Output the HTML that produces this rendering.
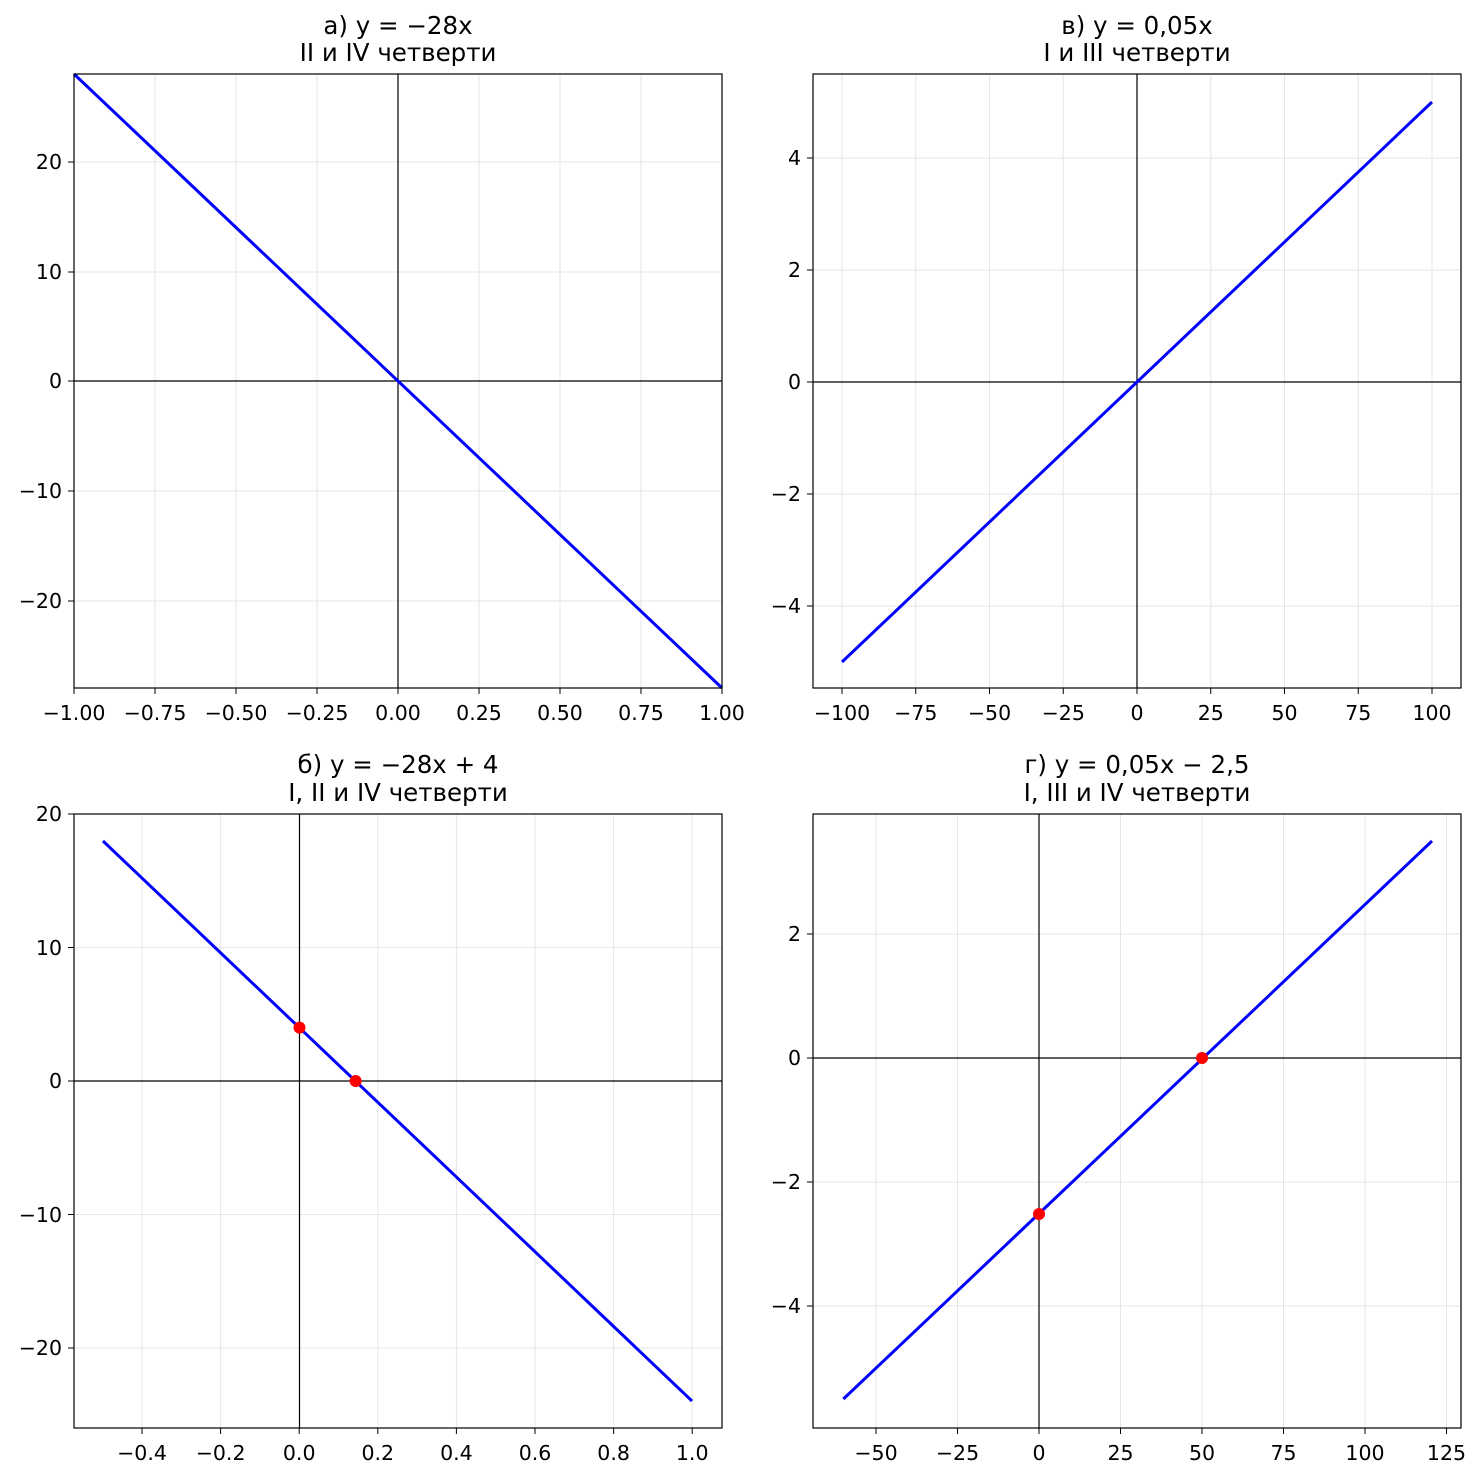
<!DOCTYPE html>
<html><head><meta charset="utf-8"><style>
body{margin:0;background:#fff}
text{font-family:"DejaVu Sans","Liberation Sans",sans-serif;fill:#000}
.t{font-size:20.5px}
.h{font-size:24.5px;text-anchor:middle}
.g{stroke:#e6e6e6;stroke-width:1}
.ax{stroke:#000;stroke-width:1.2}
.ln{stroke:#0000ff;stroke-width:3;fill:none}
</style></head><body>
<svg width="1482" height="1478" xmlns="http://www.w3.org/2000/svg">
<!-- Panel A -->
<g>
<g class="g">
<line x1="155" y1="74" x2="155" y2="688"/><line x1="236" y1="74" x2="236" y2="688"/><line x1="317" y1="74" x2="317" y2="688"/><line x1="398" y1="74" x2="398" y2="688"/><line x1="479" y1="74" x2="479" y2="688"/><line x1="560" y1="74" x2="560" y2="688"/><line x1="641" y1="74" x2="641" y2="688"/>
<line x1="74" y1="162" x2="722" y2="162"/><line x1="74" y1="272" x2="722" y2="272"/><line x1="74" y1="491" x2="722" y2="491"/><line x1="74" y1="601" x2="722" y2="601"/>
</g>
<line class="ax" x1="398" y1="74" x2="398" y2="688"/><line class="ax" x1="74" y1="381" x2="722" y2="381"/>
<line class="ln" x1="74" y1="74" x2="722" y2="688"/>
<rect x="74" y="74" width="648" height="614" fill="none" stroke="#000" stroke-width="1.2"/>
<g stroke="#000"><line x1="74" y1="688" x2="74" y2="694"/><line x1="155" y1="688" x2="155" y2="694"/><line x1="236" y1="688" x2="236" y2="694"/><line x1="317" y1="688" x2="317" y2="694"/><line x1="398" y1="688" x2="398" y2="694"/><line x1="479" y1="688" x2="479" y2="694"/><line x1="560" y1="688" x2="560" y2="694"/><line x1="641" y1="688" x2="641" y2="694"/><line x1="722" y1="688" x2="722" y2="694"/>
<line x1="68" y1="162" x2="74" y2="162"/><line x1="68" y1="272" x2="74" y2="272"/><line x1="68" y1="381" x2="74" y2="381"/><line x1="68" y1="491" x2="74" y2="491"/><line x1="68" y1="601" x2="74" y2="601"/></g>
<g class="t" text-anchor="middle"><text x="74" y="720">−1.00</text><text x="155" y="720">−0.75</text><text x="236" y="720">−0.50</text><text x="317" y="720">−0.25</text><text x="398" y="720">0.00</text><text x="479" y="720">0.25</text><text x="560" y="720">0.50</text><text x="641" y="720">0.75</text><text x="722" y="720">1.00</text></g>
<g class="t" text-anchor="end"><text x="62" y="169">20</text><text x="62" y="279">10</text><text x="62" y="388">0</text><text x="62" y="498">−10</text><text x="62" y="608">−20</text></g>
<text class="h" x="398" y="34">а) y = −28x</text><text class="h" x="398" y="61">II и IV четверти</text>
</g>
<!-- Panel B (top right) -->
<g>
<g class="g">
<line x1="842" y1="74" x2="842" y2="688"/><line x1="915.75" y1="74" x2="915.75" y2="688"/><line x1="989.5" y1="74" x2="989.5" y2="688"/><line x1="1063.25" y1="74" x2="1063.25" y2="688"/><line x1="1210.75" y1="74" x2="1210.75" y2="688"/><line x1="1284.5" y1="74" x2="1284.5" y2="688"/><line x1="1358.25" y1="74" x2="1358.25" y2="688"/><line x1="1432" y1="74" x2="1432" y2="688"/>
<line x1="813" y1="158" x2="1461" y2="158"/><line x1="813" y1="270" x2="1461" y2="270"/><line x1="813" y1="494" x2="1461" y2="494"/><line x1="813" y1="606" x2="1461" y2="606"/>
</g>
<line class="ax" x1="1137" y1="74" x2="1137" y2="688"/><line class="ax" x1="813" y1="382" x2="1461" y2="382"/>
<line class="ln" x1="842" y1="662" x2="1432" y2="102"/>
<rect x="813" y="74" width="648" height="614" fill="none" stroke="#000" stroke-width="1.2"/>
<g stroke="#000"><line x1="842" y1="688" x2="842" y2="694"/><line x1="915.75" y1="688" x2="915.75" y2="694"/><line x1="989.5" y1="688" x2="989.5" y2="694"/><line x1="1063.25" y1="688" x2="1063.25" y2="694"/><line x1="1137" y1="688" x2="1137" y2="694"/><line x1="1210.75" y1="688" x2="1210.75" y2="694"/><line x1="1284.5" y1="688" x2="1284.5" y2="694"/><line x1="1358.25" y1="688" x2="1358.25" y2="694"/><line x1="1432" y1="688" x2="1432" y2="694"/>
<line x1="807" y1="158" x2="813" y2="158"/><line x1="807" y1="270" x2="813" y2="270"/><line x1="807" y1="382" x2="813" y2="382"/><line x1="807" y1="494" x2="813" y2="494"/><line x1="807" y1="606" x2="813" y2="606"/></g>
<g class="t" text-anchor="middle"><text x="842" y="720">−100</text><text x="915.75" y="720">−75</text><text x="989.5" y="720">−50</text><text x="1063.25" y="720">−25</text><text x="1137" y="720">0</text><text x="1210.75" y="720">25</text><text x="1284.5" y="720">50</text><text x="1358.25" y="720">75</text><text x="1432" y="720">100</text></g>
<g class="t" text-anchor="end"><text x="801" y="165">4</text><text x="801" y="277">2</text><text x="801" y="389">0</text><text x="801" y="501">−2</text><text x="801" y="613">−4</text></g>
<text class="h" x="1137" y="34">в) y = 0,05x</text><text class="h" x="1137" y="61">I и III четверти</text>
</g>
<!-- Panel C (bottom left) -->
<g>
<g class="g">
<line x1="142" y1="814" x2="142" y2="1428"/><line x1="220.6" y1="814" x2="220.6" y2="1428"/><line x1="377.8" y1="814" x2="377.8" y2="1428"/><line x1="456.4" y1="814" x2="456.4" y2="1428"/><line x1="535" y1="814" x2="535" y2="1428"/><line x1="613.6" y1="814" x2="613.6" y2="1428"/><line x1="692.2" y1="814" x2="692.2" y2="1428"/>
<line x1="74" y1="947.5" x2="722" y2="947.5"/><line x1="74" y1="1214.5" x2="722" y2="1214.5"/><line x1="74" y1="1348" x2="722" y2="1348"/>
</g>
<line class="ax" x1="299.5" y1="814" x2="299.5" y2="1428"/><line class="ax" x1="74" y1="1081" x2="722" y2="1081"/>
<line class="ln" x1="103" y1="841" x2="692" y2="1401"/>
<circle cx="299.5" cy="1027.6" r="6" fill="#ff0000"/><circle cx="355.6" cy="1081" r="6" fill="#ff0000"/>
<rect x="74" y="814" width="648" height="614" fill="none" stroke="#000" stroke-width="1.2"/>
<g stroke="#000"><line x1="142" y1="1428" x2="142" y2="1434"/><line x1="220.6" y1="1428" x2="220.6" y2="1434"/><line x1="299.2" y1="1428" x2="299.2" y2="1434"/><line x1="377.8" y1="1428" x2="377.8" y2="1434"/><line x1="456.4" y1="1428" x2="456.4" y2="1434"/><line x1="535" y1="1428" x2="535" y2="1434"/><line x1="613.6" y1="1428" x2="613.6" y2="1434"/><line x1="692.2" y1="1428" x2="692.2" y2="1434"/>
<line x1="68" y1="814" x2="74" y2="814"/><line x1="68" y1="947.5" x2="74" y2="947.5"/><line x1="68" y1="1081" x2="74" y2="1081"/><line x1="68" y1="1214.5" x2="74" y2="1214.5"/><line x1="68" y1="1348" x2="74" y2="1348"/></g>
<g class="t" text-anchor="middle"><text x="142" y="1460">−0.4</text><text x="220.6" y="1460">−0.2</text><text x="299.2" y="1460">0.0</text><text x="377.8" y="1460">0.2</text><text x="456.4" y="1460">0.4</text><text x="535" y="1460">0.6</text><text x="613.6" y="1460">0.8</text><text x="692.2" y="1460">1.0</text></g>
<g class="t" text-anchor="end"><text x="62" y="821">20</text><text x="62" y="955">10</text><text x="62" y="1088">0</text><text x="62" y="1222">−10</text><text x="62" y="1355">−20</text></g>
<text class="h" x="398" y="773">б) y = −28x + 4</text><text class="h" x="398" y="801">I, II и IV четверти</text>
</g>
<!-- Panel D (bottom right) -->
<g>
<g class="g">
<line x1="876" y1="814" x2="876" y2="1428"/><line x1="957.5" y1="814" x2="957.5" y2="1428"/><line x1="1120.5" y1="814" x2="1120.5" y2="1428"/><line x1="1202" y1="814" x2="1202" y2="1428"/><line x1="1283.5" y1="814" x2="1283.5" y2="1428"/><line x1="1365" y1="814" x2="1365" y2="1428"/><line x1="1446.5" y1="814" x2="1446.5" y2="1428"/>
<line x1="813" y1="934" x2="1461" y2="934"/><line x1="813" y1="1182" x2="1461" y2="1182"/><line x1="813" y1="1306" x2="1461" y2="1306"/>
</g>
<line class="ax" x1="1039" y1="814" x2="1039" y2="1428"/><line class="ax" x1="813" y1="1058" x2="1461" y2="1058"/>
<line class="ln" x1="843.4" y1="1399" x2="1432" y2="841"/>
<circle cx="1039" cy="1214" r="6" fill="#ff0000"/><circle cx="1202" cy="1058" r="6" fill="#ff0000"/>
<rect x="813" y="814" width="648" height="614" fill="none" stroke="#000" stroke-width="1.2"/>
<g stroke="#000"><line x1="876" y1="1428" x2="876" y2="1434"/><line x1="957.5" y1="1428" x2="957.5" y2="1434"/><line x1="1039" y1="1428" x2="1039" y2="1434"/><line x1="1120.5" y1="1428" x2="1120.5" y2="1434"/><line x1="1202" y1="1428" x2="1202" y2="1434"/><line x1="1283.5" y1="1428" x2="1283.5" y2="1434"/><line x1="1365" y1="1428" x2="1365" y2="1434"/><line x1="1446.5" y1="1428" x2="1446.5" y2="1434"/>
<line x1="807" y1="934" x2="813" y2="934"/><line x1="807" y1="1058" x2="813" y2="1058"/><line x1="807" y1="1182" x2="813" y2="1182"/><line x1="807" y1="1306" x2="813" y2="1306"/></g>
<g class="t" text-anchor="middle"><text x="876" y="1460">−50</text><text x="957.5" y="1460">−25</text><text x="1039" y="1460">0</text><text x="1120.5" y="1460">25</text><text x="1202" y="1460">50</text><text x="1283.5" y="1460">75</text><text x="1365" y="1460">100</text><text x="1446.5" y="1460">125</text></g>
<g class="t" text-anchor="end"><text x="801" y="941">2</text><text x="801" y="1065">0</text><text x="801" y="1189">−2</text><text x="801" y="1313">−4</text></g>
<text class="h" x="1137" y="773">г) y = 0,05x − 2,5</text><text class="h" x="1137" y="801">I, III и IV четверти</text>
</g>
</svg>
</body></html>
